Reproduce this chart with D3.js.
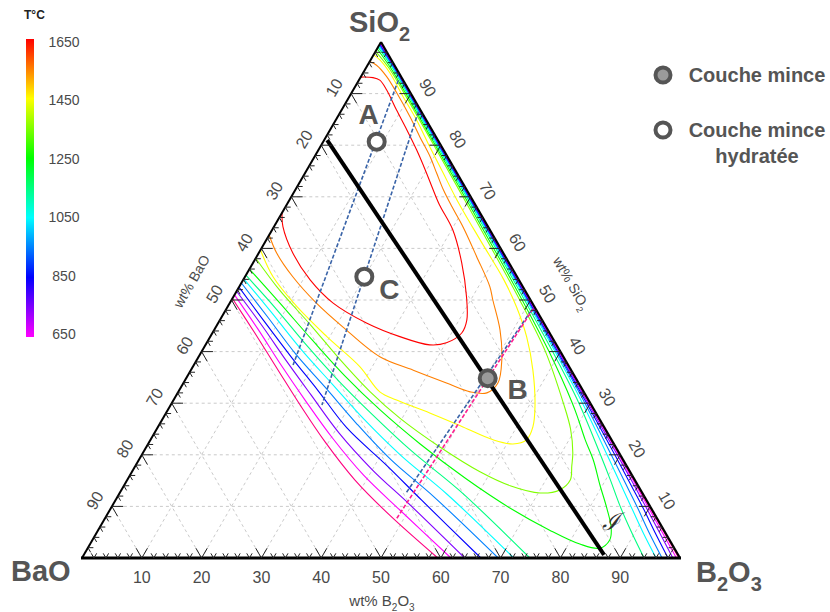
<!DOCTYPE html>
<html><head><meta charset="utf-8">
<script src="https://cdn.jsdelivr.net/npm/d3@7"></script>
<style>body{margin:0;background:#fff}svg{display:block}</style>
</head><body>
<svg id="chart" width="830" height="612"></svg>
<script>
// ---------------- DATA (ternary compositions as [wt% B2O3, wt% SiO2]) ----------------
const axisTicks = [10,20,30,40,50,60,70,80,90];
const colorbarTicks = [1650,1450,1250,1050,850,650];
const colorbarRange = [650,1650];

// isotherms (°C)
const iso1650 = [[0,93.2],[2.1,93.1],[3.5,92.6],[5.6,90.7],[9.2,86.8],[12.9,82.9],[16.4,79.1],[19.8,75.2],[22.5,72],[25.5,68.5],[30.2,63.6],[34.9,57.2],[39,50.6],[41.3,46.1],[41.7,43.6],[40.1,41.7],[37.5,41.3],[31.7,42.9],[24.9,45.5],[17.3,49.4],[11.2,53.9],[5.7,59.1],[1.5,64.2],[0,66.9]];
const iso1550 = [[0,96.2],[1.5,95.5],[4.3,93.3],[7.6,90.1],[12.1,85.5],[15.7,81.6],[19.3,77.8],[22.0,74.6],[24.8,71.3],[27.8,68.1],[31.6,64.2],[36.8,58.4],[41.9,52.6],[43.7,50],[47.8,44.2],[51.0,38.4],[52.6,33.9],[51.7,32.0],[48.8,32.2],[44.0,33.9],[37.2,36.4],[30.3,39.0],[21.2,44.8],[14.5,49.4],[8.0,54.5],[3.0,59.1],[0,62.6]];
const iso1450 = [[0,97.5],[1.6,96.5],[4.5,94],[9.0,89.4],[13.5,84.9],[18.3,79.7],[23.1,74.6],[28.0,69.4],[35.8,61.6],[43.6,53.9],[48.3,48.7],[52.9,42.9],[57.2,36.4],[61.1,29.3],[62.7,25.4],[62.9,22.9],[61.0,22.1],[57.3,22.9],[51.0,25.4],[44.1,28.1],[37.3,30.6],[33.7,32.2],[27.9,37.1],[19.5,42.9],[11.6,48.7],[4.7,54.5],[0,59.7]];
const iso1350 = [[0,58.1],[7.1,51.9],[15.6,45.2],[24.0,38.4],[32.1,32.2],[39.6,27.1],[49.1,21.5],[58.2,16.7],[64.6,14.0],[70.3,12.6],[73.3,13.2],[74.1,15.1],[73.0,17.8],[71.9,20.35],[69.2,25],[65.5,30],[57.5,40],[48.2,50],[38.5,60],[28.7,70],[18.85,80],[8.9,90],[3.8,95],[0,98.2]];
const iso1250 = [[0,56.0],[8.4,49.4],[17.3,42.3],[26.3,35.3],[35.5,28.7],[45.5,22.1],[56.3,15.5],[66.7,9.7],[75.5,5.4],[81.9,2.7],[85.6,1.9],[86.5,3.5],[85.6,5.8],[82.9,9.7],[79.5,14.2],[76.0,19.0],[72.7,22.9],[69.7,26.7],[67.0,30],[58.1,40],[48.6,50],[38.85,60],[29.0,70],[19.1,80],[9.15,90],[4.1,95],[0,98.7]];
const iso1150a = [[0,54.8],[8.3,48.3],[17.1,41.1],[25.8,34.3],[34.8,27.7],[44.8,20.7],[56.7,13.0],[74.9,0]];
const iso1150b = [[0,99.0],[4.4,95],[9.4,90],[19.35,80],[29.3,70],[39.2,60],[49.0,50],[58.7,40],[68.1,30],[76.7,20],[80.9,15],[85.0,10],[89.4,5],[94.0,0]];
const iso1050a = [[0,54.1],[8.0,47.5],[16.6,40.3],[25.0,33.7],[33.7,26.9],[43.5,19.8],[54.8,12.4],[72.2,0]];
const iso1050b = [[0,99.25],[4.55,95],[9.55,90],[19.5,80],[29.48,70],[39.4,60],[49.3,50],[59.1,40],[68.7,30],[77.8,20],[82.3,15],[86.8,10],[91.3,5],[96.0,0]];
const iso950a = [[0,53.3],[7.7,46.7],[16.0,39.5],[24.1,33.1],[32.7,26.2],[42.2,19.0],[53.0,11.8],[69.6,0]];
const iso950b = [[0,99.45],[4.68,95],[9.68,90],[19.65,80],[29.62,70],[39.58,60],[49.5,50],[59.35,40],[69.1,30],[78.5,20],[83.15,15],[87.8,10],[92.3,5],[97.0,0]];
const iso850a = [[0,52.5],[7.5,45.9],[15.7,38.8],[23.3,32.4],[31.7,25.2],[41.9,18.0],[51.2,11.2],[66.7,0]];
const iso850b = [[0,99.6],[4.78,95],[9.78,90],[19.76,80],[29.74,70],[39.7,60],[49.65,50],[59.55,40],[69.4,30],[79.1,20],[83.9,15],[88.7,10],[93.3,5],[98.0,0]];
const iso750a = [[0,51.7],[7.4,45.2],[15.3,38.0],[22.5,31.6],[30.9,24.2],[40.0,17.1],[49.7,10.3],[64.0,0]];
const iso750b = [[0,99.75],[4.86,95],[9.86,90],[19.85,80],[29.84,70],[39.82,60],[49.78,50],[59.72,40],[69.64,30],[79.5,20],[84.4,15],[89.25,10],[94.05,5],[98.8,0]];
const iso650a = [[0,51.0],[7.2,44.4],[14.8,37.2],[22.0,30.6],[30.2,23.3],[39.0,16.1],[48.5,9.3],[61.7,0]];
const iso650b = [[0,99.85],[4.93,95],[9.93,90],[19.92,80],[29.92,70],[39.9,60],[49.88,50],[59.86,40],[69.82,30],[79.75,20],[84.7,15],[89.62,10],[94.52,5],[99.4,0]];
const iso550a = [[0,50.3],[7.1,43.6],[14.6,36.4],[21.6,29.7],[29.4,22.5],[38.1,15.1],[47.3,8.3],[59.5,0]];
const iso550b = [[0,99.93],[4.97,95],[9.97,90],[19.97,80],[29.96,70],[39.96,60],[49.95,50],[59.94,40],[69.92,30],[79.9,20],[84.88,15],[89.86,10],[94.83,5],[99.8,0]];

// composition paths
const pathBlackLine = [[0.5,81.0],[87.0,0.6]];
const pathBlueA = [[6.6,92.6],[16.6,37.4]];
const pathBlueC = [[13.0,86.5],[25.3,29.65]];
const pathBlueB = [[51.15,47.9],[47.9,12.7]];
const pathPinkB = [[51.3,48.3],[48.8,7.7]];

// samples
const sampleNames = ["A","C","B"];
const sampleB2O3 = [8.94,19.95,50.43];
const sampleSiO2 = [80.68,54.52,34.83];
const sampleHydrated = [true,true,false];
const legendLabels = ["Couche mince","Couche mince hydratée"];

// ---------------- DRAWING ----------------
const svg = d3.select("#chart");
const x = d3.scaleLinear().domain([0,100]).range([82,680]);
const y = d3.scaleLinear().domain([0,100]).range([558,42]);
const P = (b,s) => [x(b + s/2), y(s)];
const hue = d3.scaleLinear().domain([1650,650]).range([0,300]);
const tColor = T => d3.hsl(hue(T),1,0.5).formatHex();
const FONT = "'Liberation Sans', Arial, sans-serif";

// grid
const grid = svg.append("g").attr("stroke","#c4c4c4").attr("stroke-width",0.9)
  .attr("stroke-dasharray","3,3").attr("fill","none");
axisTicks.forEach(k=>{
  [[P(0,k),P(100-k,k)],[P(k,0),P(k,100-k)],[P(100-k,0),P(0,100-k)]].forEach(([a,c])=>{
    grid.append("line").attr("x1",a[0]).attr("y1",a[1]).attr("x2",c[0]).attr("y2",c[1]);
  });
});

// contours
const line = d3.line().x(d=>P(d[0],d[1])[0]).y(d=>P(d[0],d[1])[1]).curve(d3.curveCatmullRom.alpha(0.5));
const contours = [
  [1650,iso1650],[1550,iso1550],[1450,iso1450],[1350,iso1350],[1250,iso1250],
  [1150,iso1150a],[1150,iso1150b],[1050,iso1050a],[1050,iso1050b],[950,iso950a],[950,iso950b],
  [850,iso850a],[850,iso850b],[750,iso750a],[750,iso750b],[650,iso650a],[650,iso650b],[550,iso550a],[550,iso550b]
];
const cg = svg.append("g").attr("fill","none").attr("stroke-width",1.1);
contours.forEach(([T,pts])=>cg.append("path").attr("d",line(pts)).attr("stroke",tColor(T)));

// dashed lines
const straight = d3.line().x(d=>P(d[0],d[1])[0]).y(d=>P(d[0],d[1])[1]);
[pathBlueA,pathBlueC,pathBlueB].forEach(p=>svg.append("path").attr("d",straight(p))
  .attr("stroke","#3a64a8").attr("stroke-width",1.6).attr("stroke-dasharray","4,2").attr("fill","none"));
svg.append("path").attr("d",straight(pathPinkB)).attr("stroke","#ff1f8f").attr("stroke-width",1.6)
  .attr("stroke-dasharray","4,2").attr("fill","none");

// black line
svg.append("path").attr("d",straight(pathBlackLine)).attr("stroke","#000").attr("stroke-width",4).attr("fill","none");

// triangle edges
const A0=P(0,0), B0=P(100,0), S0=P(0,100);
svg.append("line").attr("x1",A0[0]).attr("y1",A0[1]).attr("x2",S0[0]).attr("y2",S0[1]).attr("stroke","#000").attr("stroke-width",2);
svg.append("line").attr("x1",B0[0]).attr("y1",B0[1]).attr("x2",S0[0]).attr("y2",S0[1]).attr("stroke","#000").attr("stroke-width",2.2);
svg.append("line").attr("x1",A0[0]-1).attr("y1",A0[1]).attr("x2",B0[0]+1).attr("y2",B0[1]).attr("stroke","#000").attr("stroke-width",3.2);

// ticks
const tk = svg.append("g").attr("stroke","#222").attr("stroke-width",1);
const seg=(a,c)=>tk.append("line").attr("x1",a[0]).attr("y1",a[1]).attr("x2",c[0]).attr("y2",c[1]);
for(let v=2; v<100; v+=2){
  const L = v%10===0 ? 1.9 : 0.9;
  seg(P(v,0),P(v,L)); seg(P(v,0),P(v-L,L));               // bottom: B2O3 = v
  seg(P(0,100-v),P(L,100-v)); seg(P(0,100-v),P(L,100-v-L)); // left: BaO = v
  seg(P(100-v,v),P(100-v-L,v)); seg(P(100-v,v),P(100-v,v-L)); // right: SiO2 = v
}

// tick labels
const tl = svg.append("g").attr("font-family",FONT).attr("font-size",16).attr("fill","#4a4a4a").attr("text-anchor","middle");
axisTicks.forEach(v=>{
  const pb=P(v,0);
  tl.append("text").attr("x",pb[0]).attr("y",pb[1]+25).text(v);
  const pl=P(0,100-v);
  tl.append("text").attr("transform",`translate(${pl[0]-17},${pl[1]-6}) rotate(-60)`).attr("dy","0.35em").text(v);
  const pr=P(100-v,v);
  tl.append("text").attr("transform",`translate(${pr[0]+17},${pr[1]-6}) rotate(60)`).attr("dy","0.35em").text(v);
});

// text with subscripts
function subText(g, parts, size, subSize){
  const t = g.append("text");
  let shifted = false;
  parts.forEach(([txt,sub])=>{
    const ts = t.append("tspan").text(txt).attr("font-size", sub?subSize:size);
    if(sub && !shifted){ ts.attr("dy", size*0.3); shifted = true; }
    else if(!sub && shifted){ ts.attr("dy", -size*0.3); shifted = false; }
  });
  return t;
}
const at = svg.append("g").attr("font-family",FONT).attr("fill","#4a4a4a").attr("text-anchor","middle");
subText(at,[["wt% B"],["2",1],["O"],["3",1]],15,10).attr("x",382).attr("y",606);
subText(at,[["wt% BaO"]],14,9).attr("transform","translate(191,281) rotate(-60)").attr("dy","0.35em");
subText(at,[["wt% SiO"],["2",1]],14,9).attr("transform","translate(572,283) rotate(60)").attr("dy","0.35em");

// corner labels
const cl = svg.append("g").attr("font-family",FONT).attr("font-weight","bold").attr("fill","#555");
subText(cl,[["SiO"],["2",1]],29,20).attr("x",349).attr("y",32);
subText(cl,[["BaO"]],29,20).attr("x",11).attr("y",581);
subText(cl,[["B"],["2",1],["O"],["3",1]],29,20).attr("x",696).attr("y",582);

// script symbol
svg.append("text").attr("x",611).attr("y",530).attr("text-anchor","middle")
  .attr("font-family","'DejaVu Serif', serif").attr("font-style","italic").attr("font-size",24).attr("fill","#333").text("\u2110");

// samples
const labelOffset = {A:[-8,-18], C:[25,22], B:[30,21]};
sampleNames.forEach((n,i)=>{
  const p=P(sampleB2O3[i],sampleSiO2[i]);
  svg.append("circle").attr("cx",p[0]).attr("cy",p[1]).attr("r",8)
    .attr("fill",sampleHydrated[i]?"#fff":"#9a9a9a").attr("stroke","#555").attr("stroke-width",4);
  svg.append("text").attr("x",p[0]+labelOffset[n][0]).attr("y",p[1]+labelOffset[n][1])
    .attr("text-anchor","middle").attr("font-family",FONT).attr("font-weight","bold")
    .attr("font-size",28).attr("fill","#555").text(n);
});

// legend
const lg = svg.append("g").attr("font-family",FONT).attr("font-weight","bold").attr("font-size",20).attr("fill","#555");
lg.append("circle").attr("cx",663).attr("cy",75).attr("r",7.5).attr("fill","#9a9a9a").attr("stroke","#555").attr("stroke-width",4);
lg.append("text").attr("x",757).attr("y",82).attr("text-anchor","middle").text(legendLabels[0]);
lg.append("circle").attr("cx",663).attr("cy",130).attr("r",7.5).attr("fill","#fff").attr("stroke","#555").attr("stroke-width",4);
const words = legendLabels[1].split(" ");
lg.append("text").attr("x",757).attr("y",137).attr("text-anchor","middle").text(words.slice(0,2).join(" "));
lg.append("text").attr("x",757).attr("y",163).attr("text-anchor","middle").text(words.slice(2).join(" "));

// colorbar
const cy = d3.scaleLinear().domain(colorbarRange).range([334,42]);
const defs = svg.append("defs");
const grad = defs.append("linearGradient").attr("id","cbar").attr("x1",0).attr("y1",1).attr("x2",0).attr("y2",0);
d3.range(0,11).forEach(i=>{
  const T = colorbarRange[0] + i*(colorbarRange[1]-colorbarRange[0])/10;
  grad.append("stop").attr("offset",i/10).attr("stop-color",tColor(T));
});
svg.append("rect").attr("x",26).attr("y",cy(1650)-3).attr("width",8).attr("height",cy(650)-cy(1650)+6).attr("fill","url(#cbar)");
const cb = svg.append("g").attr("font-family",FONT).attr("font-size",14).attr("fill","#4a4a4a");
colorbarTicks.forEach(T=>cb.append("text").attr("x",64).attr("y",cy(T)).attr("dy","0.35em").attr("text-anchor","middle").text(T));
svg.append("text").attr("x",24).attr("y",19).attr("font-family",FONT).attr("font-weight","bold").attr("font-size",12).attr("fill","#222").text("T°C");
</script>
</body></html>
